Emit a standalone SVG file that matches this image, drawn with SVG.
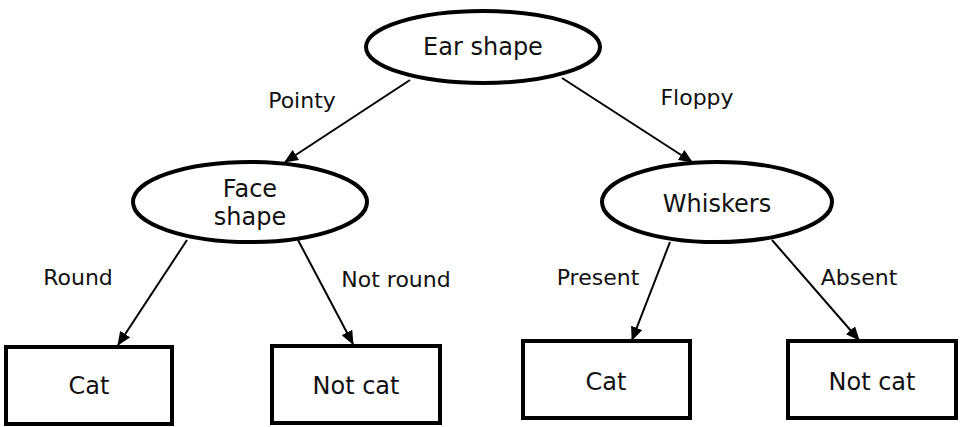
<svg xmlns="http://www.w3.org/2000/svg" width="964" height="427" viewBox="0 0 964 427">
<style>
.n{fill:#fff;stroke:#000;stroke-width:4}
.t{font-family:"DejaVu Sans",Verdana,sans-serif;font-size:24px;fill:#111;text-anchor:middle}
.l{font-family:"DejaVu Sans",Verdana,sans-serif;font-size:22px;fill:#111;text-anchor:middle}
.e{stroke:#000;stroke-width:2;fill:none;marker-end:url(#a)}
</style>
<defs>
<marker id="a" viewBox="0 0 14 12" refX="13" refY="6" markerWidth="14" markerHeight="12" markerUnits="userSpaceOnUse" orient="auto">
<path d="M0,0 L14,6 L0,12 z" fill="#000"/>
</marker>
</defs>
<rect width="964" height="427" fill="#fff"/>
<g id="connectors">
<line class="e" x1="410" y1="80" x2="285" y2="162"/>
<line class="e" x1="562" y1="78" x2="692" y2="162"/>
<line class="e" x1="187" y1="240" x2="118" y2="345"/>
<line class="e" x1="298" y1="240" x2="353" y2="344"/>
<line class="e" x1="670" y1="242" x2="632" y2="340"/>
<line class="e" x1="772" y1="240" x2="859" y2="340"/>
</g>
<g id="edge-labels">
<text class="l" x="302" y="108">Pointy</text>
<text class="l" x="697" y="105">Floppy</text>
<text class="l" x="78" y="285">Round</text>
<text class="l" x="396" y="287">Not round</text>
<text class="l" x="598" y="285">Present</text>
<text class="l" x="859" y="285">Absent</text>
</g>
<g id="ear-shape">
<ellipse class="n" cx="483" cy="47" rx="117" ry="36"/>
<text class="t" x="483" y="55">Ear shape</text>
</g>
<g id="face-shape">
<ellipse class="n" cx="250" cy="202" rx="117" ry="40"/>
<text class="t" x="250" y="197">Face</text>
<text class="t" x="250" y="225">shape</text>
</g>
<g id="whiskers">
<ellipse class="n" cx="717" cy="202" rx="115" ry="40"/>
<text class="t" x="717" y="212">Whiskers</text>
</g>
<g id="cat-1">
<rect class="n" x="6" y="347" width="166" height="77"/>
<text class="t" x="89" y="394">Cat</text>
</g>
<g id="not-cat-1">
<rect class="n" x="272" y="346" width="168" height="77"/>
<text class="t" x="356" y="394">Not cat</text>
</g>
<g id="cat-2">
<rect class="n" x="523" y="341" width="167" height="77"/>
<text class="t" x="606" y="390">Cat</text>
</g>
<g id="not-cat-2">
<rect class="n" x="788" y="341" width="168" height="77"/>
<text class="t" x="872" y="390">Not cat</text>
</g>
</svg>
